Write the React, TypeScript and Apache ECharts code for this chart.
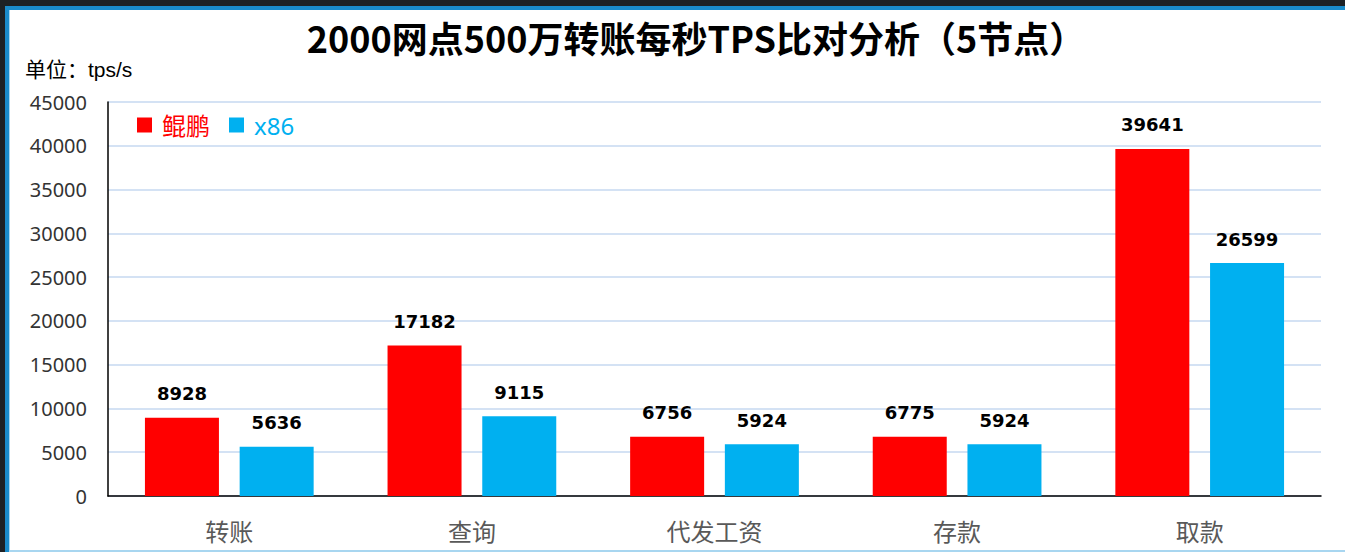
import React, { useEffect, useRef } from "react";
import * as echarts from "echarts";

const categories = ["转账", "查询", "代发工资", "存款", "取款"];
const kunpengValues = [8928, 17182, 6756, 6775, 39641];
const x86Values = [5636, 9115, 5924, 5924, 26599];
const seriesNames = ["鲲鹏", "x86"];
const titleText = "2000网点500万转账每秒TPS比对分析（5节点）";
const unitText = "单位：tps/s";

export default function App() {
  const ref = useRef<HTMLDivElement>(null);
  useEffect(() => {
    if (!ref.current) return;
    const chart = echarts.init(ref.current, null, { renderer: "svg" });
    chart.setOption({
      animation: false,
      backgroundColor: "#ffffff",
      graphic: [
        {
          type: "text",
          x: 686,
          y: 27,
          style: {
            text: titleText,
            font: "bold 36px 'Noto Sans CJK SC', sans-serif",
            fill: "#000000",
            textAlign: "center",
            textVerticalAlign: "middle",
          },
        },
        {
          type: "text",
          x: 15,
          y: 59,
          style: {
            text: unitText,
            font: "21px 'Liberation Sans', 'Noto Sans CJK SC', sans-serif",
            fill: "#000000",
            textAlign: "left",
            textVerticalAlign: "middle",
          },
        },
      ],
      legend: {
        left: 127,
        top: 103,
        padding: 0,
        icon: "rect",
        itemWidth: 15,
        itemHeight: 15,
        itemGap: 19,
        textStyle: {
          fontSize: 24,
          fontFamily: "'Noto Sans', 'Noto Sans CJK SC', sans-serif",
          padding: [0, 0, 0, 5],
        },
        data: [
          { name: seriesNames[0], textStyle: { color: "#ff0000" } },
          { name: seriesNames[1], textStyle: { color: "#00b0f0" } },
        ],
      },
      grid: { left: 98, top: 92, right: 24, bottom: 54, containLabel: false },
      xAxis: {
        type: "category",
        data: categories,
        axisLine: { lineStyle: { color: "#000000", width: 1.5 } },
        axisTick: { show: false },
        axisLabel: {
          margin: 22,
          fontSize: 24,
          color: "#595959",
          fontFamily: "'Noto Sans CJK SC', serif",
        },
      },
      yAxis: {
        type: "value",
        min: 0,
        max: 45000,
        interval: 5000,
        axisLine: { show: true, lineStyle: { color: "#000000", width: 1.5 } },
        axisTick: { show: false },
        splitLine: { lineStyle: { color: "#c6d9f1", width: 1.5 } },
        axisLabel: {
          margin: 21,
          fontSize: 20,
          color: "#333333",
          fontFamily: "'Noto Sans', sans-serif",
          formatter: (v: number) => String(v),
        },
      },
      series: [
        {
          name: seriesNames[0],
          type: "bar",
          data: kunpengValues,
          barWidth: 74,
          barGap: "28%",
          itemStyle: { color: "#ff0000" },
          label: {
            show: true,
            position: "top",
            distance: 15,
            fontSize: 18,
            fontWeight: "bold",
            color: "#000000",
            fontFamily: "'DejaVu Sans', sans-serif",
          },
        },
        {
          name: seriesNames[1],
          type: "bar",
          data: x86Values,
          barWidth: 74,
          barGap: "28%",
          itemStyle: { color: "#00b0f0" },
          label: {
            show: true,
            position: "top",
            distance: 15,
            fontSize: 18,
            fontWeight: "bold",
            color: "#000000",
            fontFamily: "'DejaVu Sans', sans-serif",
          },
        },
      ],
    });
    return () => chart.dispose();
  }, []);

  return (
    <div
      style={{
        position: "fixed",
        left: 0,
        top: 0,
        width: 1345,
        height: 552,
        background: "#1d2125",
        overflow: "hidden",
      }}
    >
      <div
        style={{
          position: "absolute",
          left: 5,
          top: 6,
          width: 1340,
          height: 546,
          background: "#1a8bcb",
        }}
      />
      <div
        style={{
          position: "absolute",
          left: 9,
          top: 10,
          width: 1336,
          height: 542,
          background: "#a8d6f0",
        }}
      />
      <div
        ref={ref}
        style={{ position: "absolute", left: 10, top: 10, width: 1335, height: 540 }}
      />
    </div>
  );
}
